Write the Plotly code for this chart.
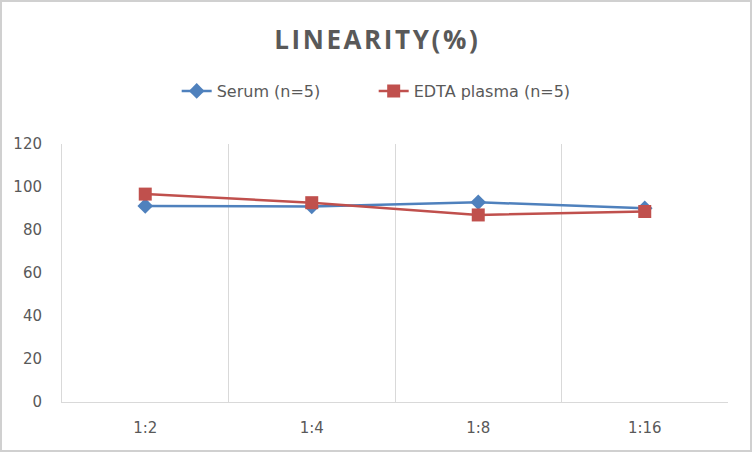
import plotly.graph_objects as go

# ── DATA ──────────────────────────────
dilutions = ["1:2", "1:4", "1:8", "1:16"]
serum     = [91.2, 90.9, 92.9, 90.1]
edta      = [96.7, 92.7, 87.0, 88.6]

W, H = 752, 452
L, R, T, B = 62, 24, 144, 50
GREY = "#595959"
FONT = "DejaVu Sans"

fig = go.Figure()

fig.add_trace(go.Scatter(x=dilutions, y=serum, name="Serum (n=5)",
                         mode="lines+markers",
                         line=dict(color="#4F81BD", width=2.5),
                         marker=dict(symbol="diamond", size=12, color="#4F81BD")))

fig.add_trace(go.Scatter(x=dilutions, y=edta, name="EDTA plasma (n=5)",
                         mode="lines+markers",
                         line=dict(color="#C0504D", width=2.5),
                         marker=dict(symbol="square", size=13, color="#C0504D")))

# outer chart border
pw, ph = W - L - R, H - T - B
fig.add_shape(type="rect", xref="paper", yref="paper",
              x0=(-L + 1) / pw, x1=1 + (R - 1) / pw,
              y0=(-B + 1) / ph, y1=1 + (T - 1) / ph,
              line=dict(color="#D0D0D0", width=2))

title_txt = "\u200a".join("LINEARITY(%)")

fig.update_layout(
    width=W, height=H,
    margin=dict(l=L, r=R, t=T, b=B),
    paper_bgcolor="white", plot_bgcolor="white",
    font=dict(family=FONT, size=15, color=GREY),
    title=dict(text=f"<b>{title_txt}</b>", x=0.5, xanchor="center",
               y=1 - 40 / H, yanchor="middle", yref="container",
               font=dict(family="Open Sans", size=26, color=GREY)),
    legend=dict(orientation="h", x=0.468, xanchor="center",
                y=1 - 91 / H, yanchor="middle", yref="container",
                entrywidth=152,
                font=dict(family=FONT, size=16, color=GREY)),
    xaxis=dict(type="category", range=[-0.5, 3.5], tickson="boundaries",
               showgrid=True, gridcolor="#D9D9D9", gridwidth=1,
               showline=True, linecolor="#D9D9D9", ticks="",
               ticklabelstandoff=12,
               tickfont=dict(family=FONT, size=15, color=GREY)),
    yaxis=dict(range=[0, 120], dtick=20, showgrid=False,
               showline=True, linecolor="#D9D9D9", ticks="",
               zeroline=False, ticklabelstandoff=16,
               tickfont=dict(family=FONT, size=15, color=GREY)),
)

fig.write_html("out.html", config={"displayModeBar": False},
               post_script="document.body.style.margin='0';document.body.style.overflow='hidden';")
